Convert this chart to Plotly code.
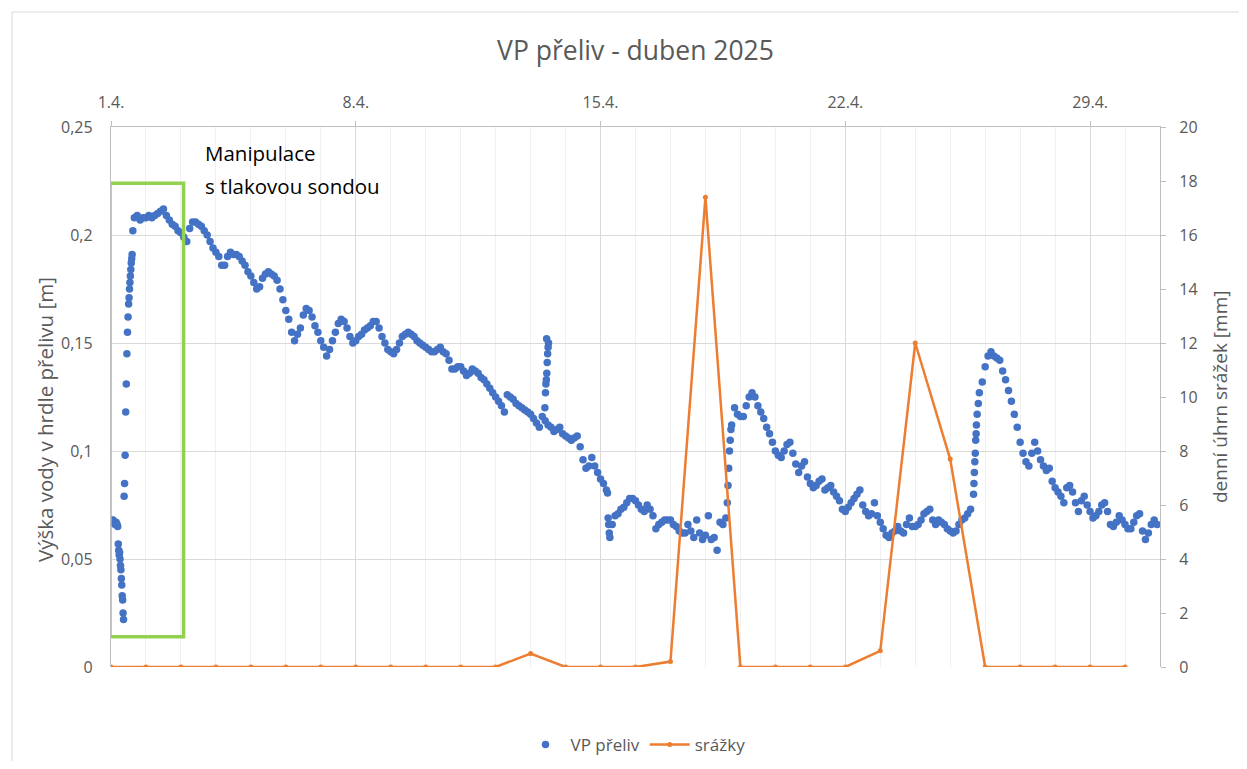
import pandas as pd
import plotly.graph_objects as go

TITLE = "VP přeliv - duben 2025"
LEFT_TITLE = "Výška vody v hrdle přelivu [m]"
RIGHT_TITLE = "denní úhrn srážek [mm]"
NOTE_LINE1 = "Manipulace"
NOTE_LINE2 = "s tlakovou sondou"
SERIES_VP = "VP přeliv"
SERIES_RAIN = "srážky"

tick_dates = ["2025-04-01", "2025-04-08", "2025-04-15", "2025-04-22", "2025-04-29"]
tick_labels = ["1.4.", "8.4.", "15.4.", "22.4.", "29.4."]
level_ticks = [0, 0.05, 0.1, 0.15, 0.2, 0.25]
level_tick_labels = ["0", "0,05", "0,1", "0,15", "0,2", "0,25"]
rain_ticks = [0, 2, 4, 6, 8, 10, 12, 14, 16, 18, 20]

# sensor manipulation on 1.4. (hours after 1.4. 00:00)
manip_hours = [0, 0.7, 1.4, 2.1, 2.8, 3.5, 4.2, 4.6,
               5.0, 5.3, 5.6, 5.9, 6.2, 6.5, 6.8, 7.1, 7.4, 7.7, 8.0, 8.3, 8.6,
               9.0, 9.3, 9.7, 10.1, 10.5, 10.9, 11.3, 11.7, 12.1, 12.4, 12.7, 13.0,
               13.3, 13.6, 13.9, 14.2, 14.5, 15.0]
manip_values = [0.068, 0.067, 0.068, 0.067, 0.066, 0.067, 0.066, 0.065,
                0.057, 0.054, 0.052, 0.053, 0.050, 0.047, 0.045, 0.041, 0.038, 0.033, 0.031, 0.025, 0.022,
                0.079, 0.085, 0.098, 0.118, 0.131, 0.145, 0.155, 0.162, 0.168, 0.171, 0.175, 0.178,
                0.181, 0.184, 0.187, 0.189, 0.191, 0.202]

# water level every 2 hours, one list per day (day 1 from 16:00)
vp_apr01 = [0.208, 0.209, 0.207, 0.208]
vp_apr02 = [0.208, 0.209, 0.208, 0.209, 0.210, 0.211, 0.212, 0.209, 0.207, 0.205, 0.204, 0.202]
vp_apr03 = [0.201, 0.199, 0.197, 0.203, 0.206, 0.206, 0.205, 0.204, 0.202, 0.200, 0.197, 0.194]
vp_apr04 = [0.192, 0.190, 0.186, 0.186, 0.190, 0.192, 0.191, 0.191, 0.190, 0.188, 0.186, 0.183]
vp_apr05 = [0.181, 0.178, 0.175, 0.176, 0.180, 0.182, 0.183, 0.182, 0.181, 0.179, 0.175, 0.170]
vp_apr06 = [0.165, 0.161, 0.155, 0.151, 0.154, 0.157, 0.163, 0.166, 0.165, 0.162, 0.158, 0.155]
vp_apr07 = [0.151, 0.148, 0.144, 0.147, 0.151, 0.155, 0.159, 0.161, 0.160, 0.157, 0.153, 0.150]
vp_apr08 = [0.151, 0.153, 0.154, 0.156, 0.157, 0.158, 0.160, 0.160, 0.157, 0.153, 0.150, 0.147]
vp_apr09 = [0.146, 0.145, 0.147, 0.150, 0.153, 0.154, 0.155, 0.154, 0.153, 0.151, 0.150, 0.149]
vp_apr10 = [0.148, 0.147, 0.146, 0.146, 0.147, 0.148, 0.146, 0.145, 0.142, 0.138, 0.138, 0.139]
vp_apr11 = [0.139, 0.137, 0.135, 0.136, 0.138, 0.137, 0.136, 0.134, 0.133, 0.131, 0.129, 0.127]
vp_apr12 = [0.125, 0.123, 0.121, 0.118, 0.126, 0.125, 0.124, 0.122, 0.121, 0.120, 0.119, 0.118]
vp_apr13 = [0.117, 0.115, 0.113, 0.111, 0.116, 0.114, 0.112, 0.111, 0.109, 0.110, 0.111, 0.108]
vp_apr14 = [0.107, 0.106, 0.105, 0.106, 0.107, 0.102, 0.096, 0.092, 0.093, 0.097, 0.093, 0.090]
vp_apr15 = [0.087, 0.085, 0.082, 0.062, 0.066, 0.070, 0.071, 0.073, 0.074, 0.076, 0.078, 0.078]
vp_apr16 = [0.077, 0.075, 0.073, 0.072, 0.075, 0.073, 0.070, 0.064, 0.066, 0.067, 0.068, 0.068]
vp_apr17 = [0.068, 0.066, 0.065, 0.063, 0.062, 0.062, 0.066, 0.063, 0.060, 0.068, 0.062, 0.059]
vp_apr18 = [0.061, 0.070, 0.059, 0.060, 0.054, 0.067, 0.066, 0.069, 0.092, 0.112, 0.120, 0.117]
vp_apr19 = [0.116, 0.116, 0.121, 0.125, 0.127, 0.125, 0.121, 0.118, 0.115, 0.111, 0.108, 0.104]
vp_apr20 = [0.100, 0.098, 0.097, 0.100, 0.103, 0.104, 0.099, 0.094, 0.090, 0.093, 0.095, 0.088]
vp_apr21 = [0.085, 0.083, 0.084, 0.086, 0.087, 0.082, 0.083, 0.084, 0.081, 0.079, 0.077, 0.073]
vp_apr22 = [0.072, 0.074, 0.076, 0.078, 0.080, 0.082, 0.075, 0.072, 0.070, 0.071, 0.076, 0.070]
vp_apr23 = [0.067, 0.064, 0.061, 0.060, 0.062, 0.063, 0.065, 0.063, 0.062, 0.066, 0.069, 0.065]
vp_apr24 = [0.065, 0.066, 0.068, 0.071, 0.072, 0.073, 0.068, 0.066, 0.068, 0.067, 0.066, 0.064]
vp_apr25 = [0.063, 0.062, 0.063, 0.066, 0.068, 0.069, 0.071, 0.073, 0.080, 0.112, 0.127, 0.132]
vp_apr26 = [0.139, 0.144, 0.146, 0.144, 0.143, 0.142, 0.137, 0.133, 0.128, 0.123, 0.117, 0.111]
vp_apr27 = [0.104, 0.099, 0.095, 0.093, 0.099, 0.104, 0.100, 0.096, 0.093, 0.091, 0.092, 0.086]
vp_apr28 = [0.083, 0.081, 0.079, 0.076, 0.083, 0.084, 0.081, 0.076, 0.072, 0.077, 0.079, 0.075]
vp_apr29 = [0.072, 0.069, 0.070, 0.072, 0.075, 0.076, 0.072, 0.066, 0.065, 0.067, 0.070, 0.068]
vp_apr30 = [0.066, 0.064, 0.064, 0.067, 0.070, 0.071, 0.063, 0.059, 0.062, 0.066, 0.068, 0.066]

# extra readings during fast changes (hours after 1.4. 00:00)
extra_hours = [297.8, 298.2, 298.5, 298.8, 299.1, 299.4, 299.7, 300.0, 300.3, 299.0,
               340.8, 341.2, 341.6, 342.4,
               423.0, 423.5, 424.5, 425.0, 425.5,
               592.3, 592.6, 592.9, 593.2, 593.5, 593.8, 594.5, 595.3]
extra_values = [0.120, 0.127, 0.131, 0.133, 0.136, 0.141, 0.145, 0.148, 0.150, 0.152,
                0.0805, 0.069, 0.066, 0.060,
                0.076, 0.084, 0.100, 0.105, 0.110,
                0.085, 0.090, 0.095, 0.099, 0.105, 0.108, 0.117, 0.122]

# daily precipitation
rain_days = list(range(1, 31))
rain_mm = [0, 0, 0, 0, 0, 0, 0, 0, 0, 0, 0, 0, 0.5, 0, 0, 0, 0.2, 17.4, 0, 0,
           0, 0, 0.6, 12.0, 7.7, 0, 0, 0, 0, 0]

# ---------------------------------------------------------------------------
start = pd.Timestamp("2025-04-01")
vp_days = [vp_apr01, vp_apr02, vp_apr03, vp_apr04, vp_apr05, vp_apr06, vp_apr07, vp_apr08,
           vp_apr09, vp_apr10, vp_apr11, vp_apr12, vp_apr13, vp_apr14, vp_apr15, vp_apr16,
           vp_apr17, vp_apr18, vp_apr19, vp_apr20, vp_apr21, vp_apr22, vp_apr23, vp_apr24,
           vp_apr25, vp_apr26, vp_apr27, vp_apr28, vp_apr29, vp_apr30]

vp_t, vp_v = [], []
for h, v in zip(manip_hours, manip_values):
    vp_t.append(start + pd.Timedelta(hours=h))
    vp_v.append(v)
for i, day in enumerate(vp_days):
    first = 24 - 2 * len(day)
    for k, v in enumerate(day):
        vp_t.append(start + pd.Timedelta(days=i, hours=first + 2 * k))
        vp_v.append(v)
for h, v in zip(extra_hours, extra_values):
    vp_t.append(start + pd.Timedelta(hours=h))
    vp_v.append(v)

rain_t = [start + pd.Timedelta(days=d - 1) for d in rain_days]

BLUE = "#4472C4"
ORANGE = "#ED7D31"
GREEN = "#92D050"
TXT = "#595959"
FONT = "Open Sans"

fig = go.Figure()
fig.add_trace(go.Scatter(x=vp_t, y=vp_v, mode="markers", name=SERIES_VP,
                         marker=dict(color=BLUE, size=7.5, line=dict(width=0)),
                         xaxis="x", yaxis="y"))
fig.add_trace(go.Scatter(x=rain_t, y=rain_mm, mode="lines+markers", name=SERIES_RAIN,
                         line=dict(color=ORANGE, width=2.5),
                         marker=dict(color=ORANGE, size=5),
                         xaxis="x", yaxis="y2"))

# the page body adds an 8px offset; the figure is sized so the plot lands on the target pixels
OFF = 8
W, H = 1247 - 2 * OFF, 769 - 2 * OFF
L, T = 111 - OFF, 127 - OFF
R = W - (1160 - OFF)
B = H - (667 - OFF)
pw, ph = W - L - R, H - T - B


def px(page_x):
    return (page_x - OFF - L) / pw


def py(page_y):
    return 1 - (page_y - OFF - T) / ph


fig.update_layout(
    width=W, height=H,
    margin=dict(l=L, r=R, t=T, b=B, pad=0, autoexpand=False),
    paper_bgcolor="white", plot_bgcolor="white",
    separators=", ",
    font=dict(family=FONT, color=TXT, size=16),
    title=dict(text=TITLE, x=0.5, xref="paper", xanchor="center",
               y=1 - (51 - OFF) / H, yanchor="middle",
               font=dict(family=FONT, size=26.5, color=TXT)),
    showlegend=True,
    legend=dict(orientation="h", x=0.5, xanchor="center", y=py(745), yanchor="middle",
                font=dict(family=FONT, size=17, color=TXT), bgcolor="rgba(0,0,0,0)",
                itemwidth=40),
    xaxis=dict(type="date", side="top", range=[start, start + pd.Timedelta(days=30)],
               tickmode="array", tickvals=tick_dates, ticktext=tick_labels,
               showgrid=True, gridcolor="#d9d9d9", gridwidth=1.3,
               showline=True, linecolor="#bfbfbf", linewidth=1.3,
               ticks="outside", ticklen=5, tickcolor="#bfbfbf",
               ticklabelstandoff=6, automargin=False,
               tickfont=dict(family=FONT, size=16, color=TXT),
               minor=dict(tickmode="linear", tick0="2025-04-01", dtick=86400000,
                          showgrid=True, gridcolor="#f0f0f0", gridwidth=1, ticks=""),
               zeroline=False, fixedrange=True),
    yaxis=dict(range=[0, 0.25], tickmode="array", tickvals=level_ticks, ticktext=level_tick_labels,
               showgrid=True, gridcolor="#d9d9d9", gridwidth=1.3,
               showline=True, linecolor="#bfbfbf", linewidth=1.3,
               ticks="", ticklabelstandoff=14, automargin=False,
               tickfont=dict(family=FONT, size=16, color=TXT),
               zeroline=False),
    yaxis2=dict(range=[0, 20], overlaying="y", side="right", tickmode="array", tickvals=rain_ticks,
                showgrid=False, showline=True, linecolor="#bfbfbf", linewidth=1.3,
                ticks="outside", ticklen=5, tickcolor="#bfbfbf", ticklabelstandoff=10,
                automargin=False,
                tickfont=dict(family=FONT, size=16, color=TXT),
                zeroline=False),
)

fig.add_annotation(text=LEFT_TITLE, xref="paper", yref="paper", x=px(45), y=py(420),
                   textangle=-90, showarrow=False, xanchor="center", yanchor="middle",
                   font=dict(family=FONT, size=20.5, color=TXT))
fig.add_annotation(text=RIGHT_TITLE, xref="paper", yref="paper", x=px(1220), y=py(397),
                   textangle=-90, showarrow=False, xanchor="center", yanchor="middle",
                   font=dict(family=FONT, size=19, color=TXT))
fig.add_annotation(text=NOTE_LINE1, xref="paper", yref="paper", x=px(203), y=py(153),
                   showarrow=False, xanchor="left", yanchor="middle",
                   font=dict(family=FONT, size=20.5, color="black"))
fig.add_annotation(text=NOTE_LINE2, xref="paper", yref="paper", x=px(203), y=py(186),
                   showarrow=False, xanchor="left", yanchor="middle",
                   font=dict(family=FONT, size=20.5, color="black"))

# highlight box of the manipulation period
fig.add_shape(type="rect", xref="x", yref="y",
              x0=start - pd.Timedelta(hours=0.7), x1=start + pd.Timedelta(hours=49.8),
              y0=0.014, y1=0.224, line=dict(color=GREEN, width=3.5), fillcolor="rgba(0,0,0,0)")

# chart frame
fig.add_shape(type="line", xref="paper", yref="paper", x0=px(12), x1=px(12), y0=py(790), y1=py(12),
              line=dict(color="#d9d9d9", width=1))
fig.add_shape(type="line", xref="paper", yref="paper", x0=px(12), x1=px(1260), y0=py(12), y1=py(12),
              line=dict(color="#d9d9d9", width=1))

fig.write_html("out.html")
